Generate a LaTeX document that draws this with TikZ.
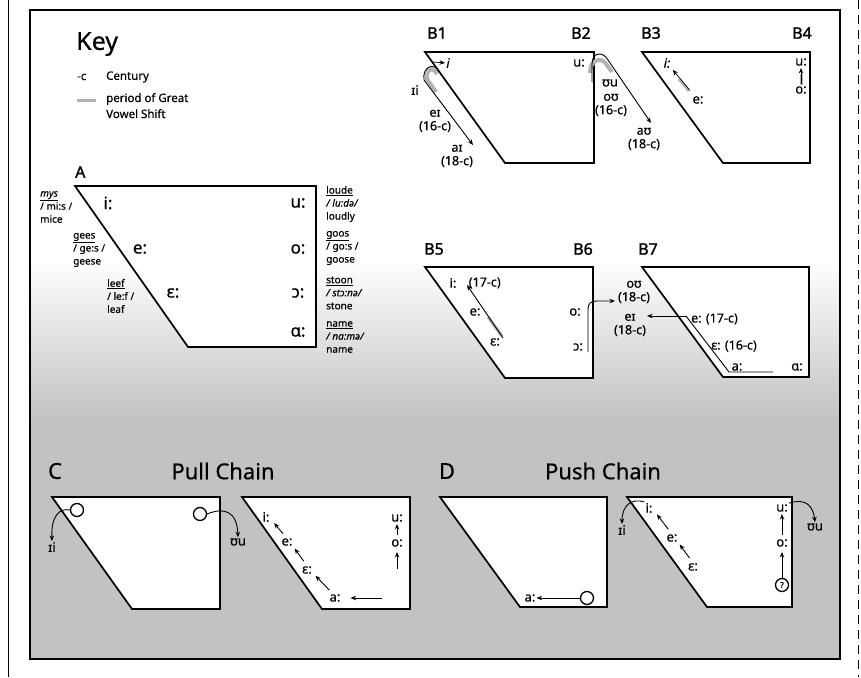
\documentclass[tikz,border=0pt]{standalone}
\usepackage{fontspec}
\setmainfont{Noto Sans}[FakeBold=0.5]
\newfontfamily\heavyfont{Noto Sans}[FakeBold=1.4]
\usetikzlibrary{arrows.meta,positioning,calc}
\definecolor{ShiftGrey}{RGB}{178,178,178}
\definecolor{PaperDots}{RGB}{194,194,194}

\begin{document}
\begin{tikzpicture}[x=1pt,y=-1pt,
    box/.style={draw,line width=1.7pt,fill=white},
    vow/.style={font=\fontsize{13}{15}\selectfont,inner sep=1pt},
    bigvow/.style={font=\fontsize{17}{19}\selectfont,inner sep=1pt},
    date/.style={font=\fontsize{12.5}{13.5}\selectfont,inner sep=1pt,align=center},
    word/.style={font=\fontsize{10}{13}\selectfont,align=left,inner sep=0pt,anchor=west},
    panel/.style={font=\heavyfont\fontsize{16}{18}\selectfont,inner sep=0pt},
    title/.style={font=\fontsize{22}{24}\selectfont,inner sep=0pt},
    arr/.style={-{Stealth[length=5.5pt,width=4.5pt]},line width=0.9pt},
    chain/.style={arr,shorten <=11pt,shorten >=8pt},
    upchain/.style={arr,shorten <=8pt,shorten >=6pt},
    gvs/.style={line width=4pt,draw=ShiftGrey},
    gap/.style={circle,draw,line width=1.3pt,minimum size=13pt,inner sep=0pt}
  ]
    \useasboundingbox (0,0) rectangle (861,677);
    % paper, dotted lower part
    \shade[top color=white,bottom color=PaperDots] (30,260) rectangle (840,420);
    \fill[PaperDots] (30,420) rectangle (840,659);
    \draw[line width=1.3pt] (30,10) rectangle (840,659);
    \draw[line width=0.8pt] (8,0) -- (8,677);
    \draw[line width=0.6pt,dash pattern=on 9pt off 6pt] (858,0) -- (858,677);

    % key
    \node[anchor=west,font=\fontsize{25}{27}\selectfont,inner sep=0pt] (key) at (76,44) {Key};
    \node[anchor=west,font=\fontsize{11.5}{13}\selectfont,inner sep=0pt] (cmark) at (77,77) {-c};
    \node[anchor=west,font=\fontsize{11.5}{13}\selectfont,inner sep=0pt] (century) at (106,77) {Century};
    \draw[gvs,line width=3pt] (77,100) -- (96,100);
    \node[anchor=north west,align=left,font=\fontsize{11.5}{16}\selectfont,inner sep=0pt] (gvskey) at (106,93) {period of Great\\Vowel Shift};

    % A
    \node[panel,anchor=west] (pa) at (75,172) {A};
    \draw[box] (75,186) -- (316,186) -- (316,347) -- (188,347) -- cycle;
    \node[bigvow] (ai) at (108,203) {i:};
    \node[bigvow] (ae) at (140,249) {e:};
    \node[bigvow] (aeh) at (173,293) {ɛ:};
    \node[bigvow] (au) at (298,203) {u:};
    \node[bigvow] (ao) at (298,249) {o:};
    \node[bigvow] (aoh) at (298,293) {ɔ:};
    \node[bigvow] (aah) at (298,332) {ɑ:};
    \node[word] (mys) at (40,207) {\underline{\itshape mys}\\/ mi:s /\\mice};
    \node[word] (gees) at (73,250) {\underline{gees}\\/ ge:s /\\geese};
    \node[word] (leef) at (107,296) {\underline{leef}\\/ le:f /\\leaf};
    \node[word] (loude) at (326,204) {\underline{loude}\\\itshape/ lu:də/\\loudly};
    \node[word] (goos) at (326,248) {\underline{goos}\\/ go:s /\\goose};
    \node[word] (stoon) at (326,293) {\underline{stoon}\\\itshape/ stɔ:nə/\\stone};
    \node[word] (name) at (326,337) {\underline{name}\\\itshape/ na:mə/\\name};

    % B1 - B4
    \node[panel] (b1) at (437,33) {B1};
    \node[panel] (b2) at (581,33) {B2};
    \node[panel] (b3) at (651,33) {B3};
    \node[panel] (b4) at (802,33) {B4};
    \draw[box] (425,52) -- (594,52) -- (594,163) -- (505,163) -- cycle;
    \draw[box] (642,52) -- (810,52) -- (810,163) -- (723,163) -- cycle;

    \node[vow] (b1i) at (448,63) {\itshape i};
    \node[vow] (b1ii) at (415,90) {ɪi};
    \node[date] (b1ei) at (435,121) {eɪ\\(16-c)};
    \node[date] (b1ai) at (457,156) {aɪ\\(18-c)};
    \coordinate (b1hook) at (432,62);
    \coordinate (b1start) at (439,72);
    \coordinate (b1end) at (473,145);
    \draw[gvs] (437,74) .. controls (433,66) and (426,68) .. (427,79) -- (436,92);
    \draw[arr,line width=0.7pt] (b1hook) -- (b1i);
    \draw[arr] (b1start) .. controls (435,62) and (422,66) .. (424,80) -- (b1end);

    \node[vow] (b2u) at (579,63) {u:};
    \node[vow] (b2uu) at (610,83) {ʊu};
    \node[date] (b2ou) at (611,105) {oʊ\\(16-c)};
    \node[date] (b2au) at (644,139) {aʊ\\(18-c)};
    \coordinate (b2start) at (592,82);
    \coordinate (b2end) at (651,123);
    \draw[gvs] (590,73) .. controls (590,60) and (601,56) .. (606,64) -- (612,72);
    \draw[arr] (b2start) -- (592,64) .. controls (592,52) and (603,51) .. (608,60) -- (b2end);

    \node[vow] (b3i) at (667,63) {\itshape i:};
    \node[vow] (b3e) at (698,100) {e:};
    \draw[gvs,line width=3pt] (689,91) -- (679,79);
    \draw[arr,line width=0.7pt,shorten <=13pt,shorten >=9pt] (b3e.center) -- (b3i.center);

    \node[vow] (b4u) at (801,62) {u:};
    \node[vow] (b4o) at (801,90) {o:};
    \draw[gvs,line width=3pt] (801,85) -- (801,74);
    \draw[arr,line width=0.7pt,shorten <=6pt,shorten >=6pt] (b4o.center) -- (b4u.center);

    % B5 - B7
    \node[panel] (b5) at (434,249) {B5};
    \node[panel] (b6) at (583,249) {B6};
    \node[panel] (b7) at (648,249) {B7};
    \draw[box] (425,267) -- (593,267) -- (593,378) -- (505,378) -- cycle;
    \draw[box] (642,267) -- (809,267) -- (809,377) -- (723,377) -- cycle;

    \node[vow] (b5i) at (453,283) {i:};
    \node[date,right=10pt of b5i] (b5d) {(17-c)};
    \node[vow] (b5e) at (475,312) {e:};
    \node[vow] (b5eh) at (495,342) {ɛ:};
    \coordinate (b5tail) at (503,338);
    \coordinate (b5head) at (467,285);
    \draw[gvs,line width=3pt] (488,317) -- (502,336);
    \draw[arr] (b5tail) -- (b5head);

    \node[vow] (b6o) at (575,312) {o:};
    \node[vow] (b6oh) at (578,347) {ɔ:};
    \node[date] (b6ou) at (634,292) {oʊ\\(18-c)};
    \coordinate (b6tail) at (588,352);
    \coordinate (b6end) at (615,301);
    \draw[arr] (b6tail) -- (588,310) .. controls (588,303) and (591,301) .. (597,301) -- (b6end);

    \node[date] (b7ei) at (630,325) {eɪ\\(18-c)};
    \node[date,anchor=west] (b7e) at (690,319) {e: (17-c)};
    \node[date,anchor=west] (b7eh) at (710,346) {ɛ: (16-c)};
    \node[vow] (b7a) at (737,367) {a:};
    \node[vow] (b7ah) at (797,367) {ɑ:};
    \coordinate (b7turn) at (686,316);
    \draw[line width=0.9pt] (b7turn) -- (729,372) -- (773,372);
    \draw[arr,line width=0.6pt] (b7turn) -- (b7turn -| b7ei.east);

    % C pull chain
    \node[title] (c) at (55,471) {C};
    \node[title] (pull) at (223,471) {Pull Chain};
    \draw[box] (52,497) -- (220,497) -- (220,609) -- (132,609) -- cycle;
    \draw[box] (242,497) -- (410,497) -- (410,609) -- (322,609) -- cycle;
    \node[gap] (c1) at (77,510) {};
    \node[gap] (c2) at (200,514) {};
    \node[vow] (cii) at (52,547) {ɪi};
    \node[vow] (cuu) at (238,542) {ʊu};
    \draw[arr] (c1.west) .. controls (60,508) and (51,515) .. (cii.north);
    \draw[arr] (c2.east) .. controls (224,507) and (237,511) .. (cuu.north);

    \node[vow] (ci) at (266,517) {i:};
    \node[vow] (ce) at (287,542) {e:};
    \node[vow] (ceh) at (307,570) {ɛ:};
    \node[vow] (ca) at (335,598) {a:};
    \node[vow] (cu) at (397,518) {u:};
    \node[vow] (co) at (397,543) {o:};
    \coordinate (cfrom) at (382,598);
    \coordinate (cbelow) at (397,569);
    \draw[chain] ([xshift=3pt]ce.center) -- ([xshift=3pt]ci.center);
    \draw[chain] ([xshift=3pt]ceh.center) -- ([xshift=3pt]ce.center);
    \draw[chain] ([xshift=2pt]ca.center) -- ([xshift=3pt]ceh.center);
    \draw[arr,shorten >=9pt] (cfrom) -- (ca.east);
    \draw[upchain] (co.center) -- (cu.center);
    \draw[upchain,shorten <=0pt,shorten >=9pt] (cbelow) -- (co.center);

    % D push chain
    \node[title] (d) at (447,471) {D};
    \node[title] (push) at (603,471) {Push Chain};
    \draw[box] (440,497) -- (607,497) -- (607,607) -- (520,607) -- cycle;
    \draw[box] (627,497) -- (792,497) -- (792,607) -- (707,607) -- cycle;
    \node[vow] (da) at (530,598) {a:};
    \node[gap] (d1) at (587,598) {};
    \draw[arr] (d1.west) -- (da.east);

    \node[vow] (di) at (649,508) {i:};
    \node[vow] (de) at (672,538) {e:};
    \node[vow] (deh) at (693,567) {ɛ:};
    \node[vow] (du) at (782,508) {u:};
    \node[vow] (do) at (782,543) {o:};
    \node[gap,font=\fontsize{8}{8}\selectfont] (d2) at (782,585) {?};
    \node[vow] (dii) at (622,530) {ɪi};
    \node[vow] (duu) at (815,527) {ʊu};
    \draw[arr] (di.north west) .. controls (632,498) and (622,505) .. (dii.north);
    \draw[arr] (du.north east) .. controls (805,498) and (813,505) .. (duu.north);
    \draw[chain] ([xshift=3pt]de.center) -- ([xshift=3pt]di.center);
    \draw[chain] ([xshift=3pt]deh.center) -- ([xshift=3pt]de.center);
    \draw[upchain] (do.center) -- (du.center);
    \draw[upchain,shorten <=0pt,shorten >=9pt] (d2.north) -- (do.center);
  \end{tikzpicture}
\end{document}
